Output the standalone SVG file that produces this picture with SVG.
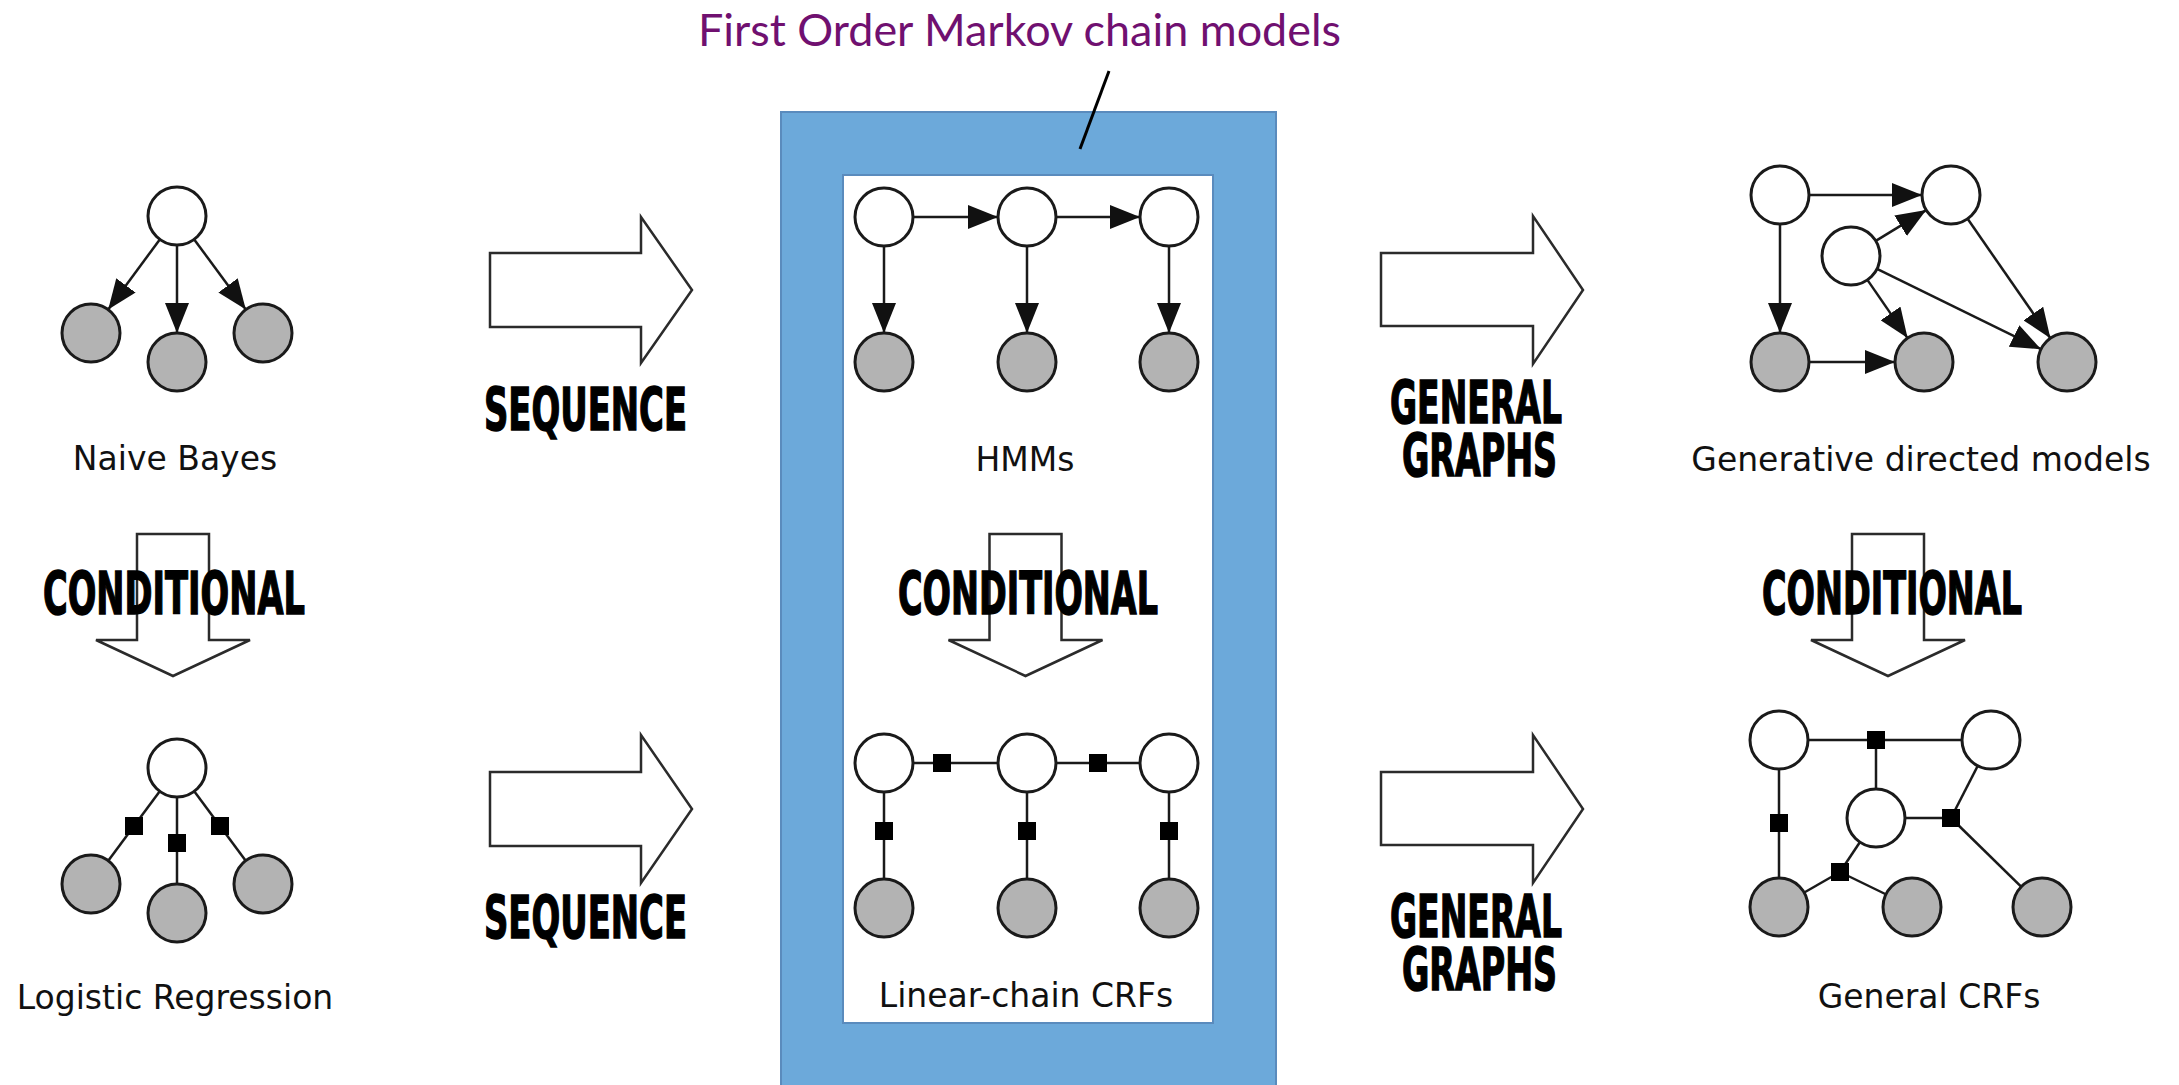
<svg xmlns="http://www.w3.org/2000/svg" width="2179" height="1085" viewBox="0 0 2179 1085">
<style>
.h{fill:#fff;stroke:#1a1a1a;stroke-width:3}
.o{fill:#b3b3b3;stroke:#1a1a1a;stroke-width:3}
.e{stroke:#1a1a1a;stroke-width:2.5;fill:none}
.d{marker-end:url(#ah)}
.f{fill:#000}
.blk{fill:#fff;stroke:#2b2b2b;stroke-width:2.5}
.lbl{font-family:"DejaVu Sans",Verdana,sans-serif;font-size:33px;fill:#111;text-anchor:middle}
.big{font-family:"DejaVu Sans Condensed","DejaVu Sans",sans-serif;font-weight:bold;font-size:58px;fill:#000;stroke:#000;stroke-width:1.4}
</style>
<defs>
<marker id="ah" markerUnits="userSpaceOnUse" markerWidth="30" markerHeight="24" viewBox="0 0 30 24" refX="30" refY="12" orient="auto"><path d="M0,0 L30,12 L0,24 Z" fill="#111"/></marker>
</defs>
<rect width="2179" height="1085" fill="#fff"/>

<!-- container -->
<g id="markov-box">
<rect x="781" y="112" width="495" height="990" fill="#6ca9da" stroke="#5a8bbd" stroke-width="2"/>
<rect x="843" y="175" width="370" height="848" fill="#fff" stroke="#5a8bbd" stroke-width="2"/>
</g>
<g id="title">
<text x="698" y="46" font-family="Lato,'Open Sans',sans-serif" font-size="44" fill="#701070" textLength="643" lengthAdjust="spacingAndGlyphs">First Order Markov chain models</text>
<line x1="1109" y1="71" x2="1080" y2="149" stroke="#000" stroke-width="3"/>
</g>

<!-- block arrows -->
<g id="seq-top">
<path class="blk" d="M490,253 H641 V217 L692,290 L641,363 V327 H490 Z"/>
<text class="big" x="484" y="430" textLength="203" lengthAdjust="spacingAndGlyphs">SEQUENCE</text>
</g>
<g id="seq-bottom">
<path class="blk" d="M490,772 H641 V735 L692,809 L641,883 V846 H490 Z"/>
<text class="big" x="484" y="938" textLength="203" lengthAdjust="spacingAndGlyphs">SEQUENCE</text>
</g>
<g id="gen-top">
<path class="blk" d="M1381,253 H1533 V216 L1583,290 L1533,364 V326 H1381 Z"/>
<text class="big"><tspan x="1390" y="423" textLength="172" lengthAdjust="spacingAndGlyphs">GENERAL</tspan><tspan x="1402" y="476" textLength="155" lengthAdjust="spacingAndGlyphs">GRAPHS</tspan></text>
</g>
<g id="gen-bottom">
<path class="blk" d="M1381,772 H1533 V735 L1583,809 L1533,883 V845 H1381 Z"/>
<text class="big"><tspan x="1390" y="937" textLength="172" lengthAdjust="spacingAndGlyphs">GENERAL</tspan><tspan x="1402" y="990" textLength="155" lengthAdjust="spacingAndGlyphs">GRAPHS</tspan></text>
</g>
<g id="cond-left">
<path class="blk" d="M137,534 H209 V640 H250 L173,676 L96,640 H137 Z"/>
<text class="big" x="43" y="614" textLength="262" lengthAdjust="spacingAndGlyphs">CONDITIONAL</text>
</g>
<g id="cond-mid">
<path class="blk" d="M989.5,534 H1061.5 V640 H1102.5 L1025.5,676 L948.5,640 H989.5 Z"/>
<text class="big" x="898" y="614" textLength="260" lengthAdjust="spacingAndGlyphs">CONDITIONAL</text>
</g>
<g id="cond-right">
<path class="blk" d="M1852,534 H1924 V640 H1965 L1888,676 L1811,640 H1852 Z"/>
<text class="big" x="1762" y="614" textLength="260" lengthAdjust="spacingAndGlyphs">CONDITIONAL</text>
</g>

<!-- connectors -->
<g id="connectors">
<line class="e d" x1="159.8" y1="239.4" x2="108.2" y2="309.6"/>
<line class="e d" x1="177" y1="245" x2="177" y2="333"/>
<line class="e d" x1="194.2" y1="239.4" x2="245.8" y2="309.6"/>
<line class="e" x1="177" y1="768" x2="91" y2="884"/>
<line class="e" x1="177" y1="768" x2="177" y2="913"/>
<line class="e" x1="177" y1="768" x2="263" y2="884"/>
<line class="e d" x1="913" y1="217" x2="998" y2="217"/>
<line class="e d" x1="1056" y1="217" x2="1140" y2="217"/>
<line class="e d" x1="884" y1="246" x2="884" y2="333"/>
<line class="e d" x1="1027" y1="246" x2="1027" y2="333"/>
<line class="e d" x1="1169" y1="246" x2="1169" y2="333"/>
<line class="e" x1="884" y1="763" x2="1169" y2="763"/>
<line class="e" x1="884" y1="763" x2="884" y2="908"/>
<line class="e" x1="1027" y1="763" x2="1027" y2="908"/>
<line class="e" x1="1169" y1="763" x2="1169" y2="908"/>
<line class="e d" x1="1809" y1="195" x2="1922" y2="195"/>
<line class="e d" x1="1780" y1="224" x2="1780" y2="333"/>
<line class="e d" x1="1809" y1="362" x2="1895" y2="362"/>
<line class="e d" x1="1875.8" y1="240.9" x2="1926.2" y2="210.1"/>
<line class="e d" x1="1867.4" y1="279.9" x2="1907.6" y2="338.1"/>
<line class="e d" x1="1877" y1="268.8" x2="2041" y2="349.2"/>
<line class="e d" x1="1967.6" y1="218.8" x2="2050.4" y2="338.2"/>
<line class="e" x1="1779" y1="740" x2="1991" y2="740"/>
<line class="e" x1="1876" y1="740" x2="1876" y2="818"/>
<line class="e" x1="1779" y1="740" x2="1779" y2="907"/>
<line class="e" x1="1876" y1="818" x2="1951" y2="818"/>
<line class="e" x1="1951" y1="818" x2="1991" y2="740"/>
<line class="e" x1="1951" y1="818" x2="2042" y2="907"/>
<line class="e" x1="1840" y1="872" x2="1876" y2="818"/>
<line class="e" x1="1840" y1="872" x2="1779" y2="907"/>
<line class="e" x1="1840" y1="872" x2="1912" y2="907"/>
</g>

<!-- factor nodes -->
<g id="factors">
<rect class="f" x="125" y="817" width="18" height="18"/>
<rect class="f" x="168" y="834" width="18" height="18"/>
<rect class="f" x="211" y="817" width="18" height="18"/>
<rect class="f" x="933" y="754" width="18" height="18"/>
<rect class="f" x="1089" y="754" width="18" height="18"/>
<rect class="f" x="875" y="822" width="18" height="18"/>
<rect class="f" x="1018" y="822" width="18" height="18"/>
<rect class="f" x="1160" y="822" width="18" height="18"/>
<rect class="f" x="1867" y="731" width="18" height="18"/>
<rect class="f" x="1770" y="814" width="18" height="18"/>
<rect class="f" x="1942" y="809" width="18" height="18"/>
<rect class="f" x="1831" y="863" width="18" height="18"/>
</g>

<!-- nodes -->
<g id="nb-y"><circle class="h" cx="177" cy="216" r="29"/></g>
<g id="nb-x1"><circle class="o" cx="91" cy="333" r="29"/></g>
<g id="nb-x2"><circle class="o" cx="177" cy="362" r="29"/></g>
<g id="nb-x3"><circle class="o" cx="263" cy="333" r="29"/></g>
<g id="nb-label"><text class="lbl" x="175" y="470">Naive Bayes</text></g>

<g id="lr-y"><circle class="h" cx="177" cy="768" r="29"/></g>
<g id="lr-x1"><circle class="o" cx="91" cy="884" r="29"/></g>
<g id="lr-x2"><circle class="o" cx="177" cy="913" r="29"/></g>
<g id="lr-x3"><circle class="o" cx="263" cy="884" r="29"/></g>
<g id="lr-label"><text class="lbl" x="175" y="1009">Logistic Regression</text></g>

<g id="hmm-y1"><circle class="h" cx="884" cy="217" r="29"/></g>
<g id="hmm-y2"><circle class="h" cx="1027" cy="217" r="29"/></g>
<g id="hmm-y3"><circle class="h" cx="1169" cy="217" r="29"/></g>
<g id="hmm-x1"><circle class="o" cx="884" cy="362" r="29"/></g>
<g id="hmm-x2"><circle class="o" cx="1027" cy="362" r="29"/></g>
<g id="hmm-x3"><circle class="o" cx="1169" cy="362" r="29"/></g>
<g id="hmm-label"><text class="lbl" x="1025" y="471">HMMs</text></g>

<g id="crf-y1"><circle class="h" cx="884" cy="763" r="29"/></g>
<g id="crf-y2"><circle class="h" cx="1027" cy="763" r="29"/></g>
<g id="crf-y3"><circle class="h" cx="1169" cy="763" r="29"/></g>
<g id="crf-x1"><circle class="o" cx="884" cy="908" r="29"/></g>
<g id="crf-x2"><circle class="o" cx="1027" cy="908" r="29"/></g>
<g id="crf-x3"><circle class="o" cx="1169" cy="908" r="29"/></g>
<g id="crf-label"><text class="lbl" x="1026" y="1007">Linear-chain CRFs</text></g>

<g id="gd-a"><circle class="h" cx="1780" cy="195" r="29"/></g>
<g id="gd-b"><circle class="h" cx="1951" cy="195" r="29"/></g>
<g id="gd-c"><circle class="h" cx="1851" cy="256" r="29"/></g>
<g id="gd-d"><circle class="o" cx="1780" cy="362" r="29"/></g>
<g id="gd-e"><circle class="o" cx="1924" cy="362" r="29"/></g>
<g id="gd-f"><circle class="o" cx="2067" cy="362" r="29"/></g>
<g id="gd-label"><text class="lbl" x="1921" y="471">Generative directed models</text></g>

<g id="gc-a"><circle class="h" cx="1779" cy="740" r="29"/></g>
<g id="gc-b"><circle class="h" cx="1991" cy="740" r="29"/></g>
<g id="gc-c"><circle class="h" cx="1876" cy="818" r="29"/></g>
<g id="gc-d"><circle class="o" cx="1779" cy="907" r="29"/></g>
<g id="gc-e"><circle class="o" cx="1912" cy="907" r="29"/></g>
<g id="gc-f"><circle class="o" cx="2042" cy="907" r="29"/></g>
<g id="gc-label"><text class="lbl" x="1929" y="1008">General CRFs</text></g>
</svg>
